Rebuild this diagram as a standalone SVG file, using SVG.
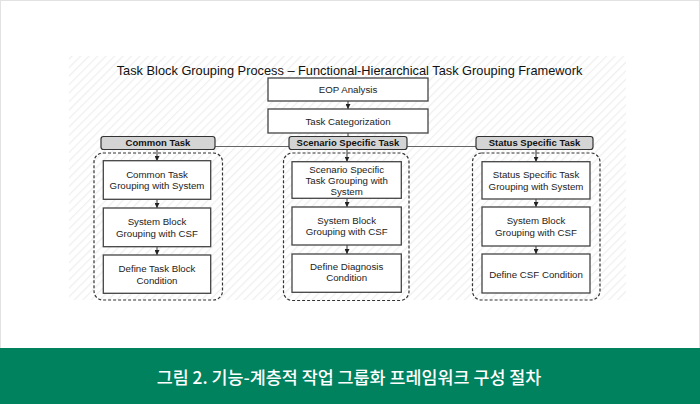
<svg xmlns="http://www.w3.org/2000/svg" width="700" height="404" viewBox="0 0 700 404">
<defs>
<pattern id="hatch" width="6" height="6" patternUnits="userSpaceOnUse" patternTransform="rotate(45)">
<rect width="6" height="6" fill="#ffffff"/>
<line x1="0" y1="0" x2="0" y2="6" stroke="#efefef" stroke-width="2.5"/>
</pattern>
<marker id="arr" viewBox="0 0 6 6" refX="6" refY="3" markerWidth="5" markerHeight="5" orient="auto" markerUnits="userSpaceOnUse">
<path d="M0,0 L6,3 L0,6 Z" fill="#222"/>
</marker>
<style>
.box{fill:#fff;stroke:#444;stroke-width:1.3}
.hdr{fill:#d4d4d4;stroke:#333;stroke-width:1.2}
.grp{fill:none;stroke:#333;stroke-width:1.2;stroke-dasharray:3 2}
.t{font-family:"Liberation Sans",Arial,sans-serif;font-size:9.7px;fill:#222;text-anchor:middle}
.h{font-family:"Liberation Sans",Arial,sans-serif;font-size:9.5px;font-weight:bold;fill:#111;text-anchor:middle}
.ttl{font-family:"Liberation Sans",Arial,sans-serif;font-size:12.8px;fill:#111;text-anchor:middle}
.cap{font-family:"Noto Sans CJK KR",sans-serif;font-size:17.4px;font-weight:500;fill:#fff;text-anchor:middle}
.ln{fill:none;stroke:#333;stroke-width:1}
.lg{fill:none;stroke:#666;stroke-width:1}
</style>
</defs>
<rect x="0" y="0" width="700" height="404" fill="#fff"/>
<rect x="0.5" y="0.5" width="699" height="360" fill="none" stroke="#e2e2e2" stroke-width="1"/>
<rect x="69" y="56" width="557" height="244" fill="url(#hatch)"/>
<rect x="0" y="348" width="700" height="56" fill="#00825f"/>
<text class="cap" x="349" y="384">그림 2. 기능-계층적 작업 그룹화 프레임워크 구성 절차</text>

<text class="ttl" x="349.5" y="74.5">Task Block Grouping Process – Functional-Hierarchical Task Grouping Framework</text>

<g id="connectors">
<line class="ln" x1="348" y1="101" x2="348" y2="109" marker-end="url(#arr)"/>
<line class="ln" x1="348" y1="133" x2="348" y2="137"/>
<line class="lg" x1="215" y1="146.5" x2="289" y2="146.5"/>
<line class="lg" x1="407" y1="146.5" x2="476" y2="146.5"/>
<line class="ln" x1="157" y1="150" x2="157" y2="161" marker-end="url(#arr)"/>
<line class="ln" x1="157" y1="199.3" x2="157" y2="208" marker-end="url(#arr)"/>
<line class="ln" x1="157" y1="246.7" x2="157" y2="255" marker-end="url(#arr)"/>
<line class="ln" x1="347" y1="150" x2="347" y2="161.7" marker-end="url(#arr)"/>
<line class="ln" x1="347" y1="198.3" x2="347" y2="207" marker-end="url(#arr)"/>
<line class="ln" x1="347" y1="245" x2="347" y2="254" marker-end="url(#arr)"/>
<line class="ln" x1="536" y1="150" x2="536" y2="161.7" marker-end="url(#arr)"/>
<line class="ln" x1="536" y1="199" x2="536" y2="207" marker-end="url(#arr)"/>
<line class="ln" x1="536" y1="246" x2="536" y2="254" marker-end="url(#arr)"/>
</g>

<g id="eop">
<rect class="box" x="268" y="78" width="160" height="23"/>
<text class="t" x="348" y="93">EOP Analysis</text>
</g>
<g id="taskcat">
<rect class="box" x="268" y="109" width="160" height="24"/>
<text class="t" x="348" y="124.5">Task Categorization</text>
</g>

<g id="grp-common">
<rect class="grp" x="94" y="153" width="128.5" height="147" rx="9"/>
</g>
<g id="grp-scenario">
<rect class="grp" x="283.5" y="153" width="125.5" height="147.5" rx="9"/>
</g>
<g id="grp-status">
<rect class="grp" x="472.5" y="153" width="127.5" height="147" rx="9"/>
</g>

<g id="hdr-common">
<rect class="hdr" x="101" y="136.5" width="114" height="13" rx="2.5"/>
<text class="h" x="158" y="146.3">Common Task</text>
</g>
<g id="hdr-scenario">
<rect class="hdr" x="289" y="136.5" width="118" height="13" rx="2.5"/>
<text class="h" x="348" y="146.3">Scenario Specific Task</text>
</g>
<g id="hdr-status">
<rect class="hdr" x="476" y="136.5" width="117" height="13" rx="2.5"/>
<text class="h" x="534.5" y="146.3">Status Specific Task</text>
</g>

<g id="c1">
<rect class="box" x="103.3" y="160.7" width="107.4" height="38.6"/>
<text class="t" x="157" y="177.7">Common Task</text>
<text class="t" x="157" y="189.4">Grouping with System</text>
</g>
<g id="c2">
<rect class="box" x="103.3" y="208" width="107.4" height="38.7"/>
<text class="t" x="157" y="225">System Block</text>
<text class="t" x="157" y="236.5">Grouping with CSF</text>
</g>
<g id="c3">
<rect class="box" x="103.3" y="255" width="107.4" height="38.3"/>
<text class="t" x="157" y="272">Define Task Block</text>
<text class="t" x="157" y="283.7">Condition</text>
</g>

<g id="s1">
<rect class="box" x="292" y="161.7" width="109.3" height="36.6"/>
<text class="t" x="346.7" y="172.7">Scenario Specific</text>
<text class="t" x="346.7" y="184">Task Grouping with</text>
<text class="t" x="346.7" y="195">System</text>
</g>
<g id="s2">
<rect class="box" x="292" y="207" width="109.3" height="38"/>
<text class="t" x="346.7" y="224">System Block</text>
<text class="t" x="346.7" y="235">Grouping with CSF</text>
</g>
<g id="s3">
<rect class="box" x="292" y="254" width="109.3" height="38.3"/>
<text class="t" x="346.7" y="270">Define Diagnosis</text>
<text class="t" x="346.7" y="281">Condition</text>
</g>

<g id="t1">
<rect class="box" x="482" y="161.7" width="108" height="37.3"/>
<text class="t" x="536" y="178.4">Status Specific Task</text>
<text class="t" x="536" y="190">Grouping with System</text>
</g>
<g id="t2">
<rect class="box" x="482" y="207" width="108" height="39"/>
<text class="t" x="536" y="224.4">System Block</text>
<text class="t" x="536" y="235.7">Grouping with CSF</text>
</g>
<g id="t3">
<rect class="box" x="482" y="254" width="108" height="39"/>
<text class="t" x="536" y="278.4">Define CSF Condition</text>
</g>
</svg>
